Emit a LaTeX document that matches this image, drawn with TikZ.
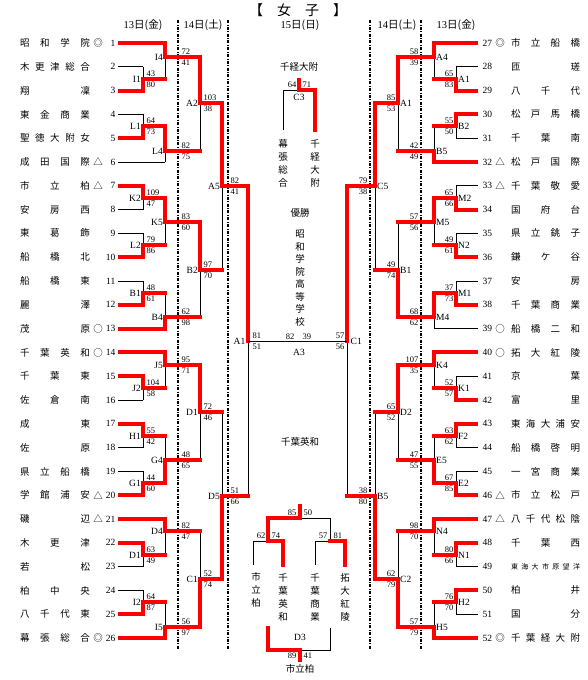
\documentclass[tikz,border=0pt]{standalone}
\usepackage{fontspec}
\setmainfont{Liberation Serif}
\newfontfamily\jp{Noto Sans CJK JP}

% one match: \cv vertical x, \co next x, \cs score x
% #1 top y, #2 bottom y, #3 out y, #4 winner y, #5 label, #6 #7 scores
\newcommand{\mL}[7]{%
  \draw[wire] (\cv,#1) -- (\cv,#2);
  \draw[win] (\cv,#4) -- (\cv,#3) -- (\co,#3);
  \node[lab,anchor=east] (m#5) at (\cv-1.5,#3) {#5};
  \node[sc,anchor=south west] (m#5a) at (\cs,#3-2) {#6};
  \node[sc,anchor=north west] (m#5b) at (\cs,#3+2) {#7};}
\newcommand{\mR}[7]{%
  \draw[wire] (\cv,#1) -- (\cv,#2);
  \draw[win] (\cv,#4) -- (\cv,#3) -- (\co,#3);
  \node[lab,anchor=west] (m#5) at (\cv+1.5,#3) {#5};
  \node[sc,anchor=south east] (m#5a) at (\cs,#3-2) {#6};
  \node[sc,anchor=north east] (m#5b) at (\cs,#3+2) {#7};}

\begin{document}
\begin{tikzpicture}[x=1pt,y=-1pt,
  every node/.style={inner sep=0.5pt},
  wire/.style={line width=0.7pt},
  win/.style={red,line width=4pt,line cap=rect},
  day/.style={line width=1.1pt,dash pattern=on 3pt off 1.5pt on 0.8pt off 1.5pt},
  sc/.style={font=\fontsize{8.5}{9}\selectfont},
  lab/.style={font=\fontsize{9.5}{10}\selectfont},
  num/.style={font=\fontsize{9.5}{10}\selectfont},
  tn/.style={font=\jp\fontsize{9.5}{10}\selectfont},
  vt/.style={font=\jp\fontsize{9.5}{13}\selectfont,align=center},
  hd/.style={font=\fontsize{10.5}{12}\selectfont}]
\useasboundingbox (0,0) rectangle (588,680);

% titles and days
\node[font=\jp\fontsize{14}{16}\selectfont] (title) at (298,10) {【\quad 女\quad 子\quad 】};
\node[hd] (d13l) at (143,25) {13{\jp 日(金)}};
\node[hd] (d14l) at (203,25) {14{\jp 日(土)}};
\node[hd] (d15) at (300,25) {15{\jp 日(日)}};
\node[hd] (d14r) at (397,25) {14{\jp 日(土)}};
\node[hd] (d13r) at (456,25) {13{\jp 日(金)}};
\foreach \x in {178,228,370,421} \draw[day] (\x,20) -- (\x,649);

% semifinals and final
\draw[wire] (248,186) -- (248,496);
\draw[win] (248,186) -- (248,341);
\node[lab,anchor=east] (sA1) at (246,341) {A1};
\node[sc,anchor=south west] at (252,339) {81};
\node[sc,anchor=north west] at (252,343) {51};
\draw[wire] (347,186) -- (347,496);
\draw[win] (347,186) -- (347,341);
\node[lab,anchor=west] (sC1) at (350,341) {C1};
\node[sc,anchor=south east] at (345,339) {57};
\node[sc,anchor=north east] at (345,343) {56};
\draw[wire] (sA1.east) ++(2,0) -- (347,341);
\node[sc,anchor=south east] at (295,340) {82};
\node[sc,anchor=south west] at (302,340) {39};
\node[lab] (fA3) at (299,352) {A3};

% left side
\def\cv{222}\def\co{248}\def\cs{230}
\mL{103}{270}{186}{103}{A5}{82}{41}
\mL{412}{579}{496}{579}{D5}{51}{66}
\def\cv{200}\def\co{222}\def\cs{203}
\mL{57}{151}{103}{57}{A2}{103}{38}
\mL{222}{317}{270}{222}{B2}{97}{70}
\mL{365}{460}{412}{365}{D1}{72}{46}
\mL{531}{627}{579}{627}{C1}{52}{74}
\def\cv{165}\def\co{200}\def\cs{181}
\mL{43}{79}{57}{43}{I4}{72}{41}
\mL{126}{162}{151}{126}{L4}{82}{75}
\mL{198}{245}{222}{198}{K5}{83}{60}
\mL{293}{328.6}{317}{328.6}{B4}{62}{98}
\mL{352.4}{388}{365}{352.4}{J5}{95}{71}
\mL{436}{483}{460}{483}{G4}{48}{65}
\mL{519}{555}{531}{519}{D4}{82}{47}
\mL{602}{638}{627}{638}{I5}{56}{97}
\def\cv{143}\def\co{165}\def\cs{146}
\mL{66.8}{90.6}{79}{90.6}{I1}{43}{80}
\mL{114.4}{138.2}{126}{138.2}{L1}{64}{73}
\mL{185.8}{209.6}{198}{185.8}{K2}{109}{47}
\mL{233.4}{257.2}{245}{257.2}{L2}{79}{86}
\mL{281}{304.8}{293}{304.8}{B1}{48}{61}
\mL{376.2}{400}{388}{376.2}{J2}{104}{58}
\mL{423.8}{447.6}{436}{423.8}{H1}{55}{42}
\mL{471.4}{495.2}{483}{495.2}{G1}{44}{60}
\mL{542.8}{566.6}{555}{542.8}{D1}{63}{49}
\mL{590.4}{614.2}{602}{614.2}{I2}{64}{87}

% right side
\def\cv{375}\def\co{347}\def\cs{368}
\mR{103}{270}{186}{103}{C5}{79}{38}
\mR{412}{579}{496}{579}{B5}{38}{80}
\def\cv{398}\def\co{375}\def\cs{396}
\mR{57}{151}{103}{57}{A1}{85}{53}
\mR{222}{317}{270}{317}{B1}{49}{74}
\mR{365}{460}{412}{365}{D2}{65}{52}
\mR{531}{627}{579}{627}{C2}{62}{79}
\def\cv{434}\def\co{398}\def\cs{419}
\mR{43}{79}{57}{43}{A4}{58}{39}
\mR{126}{162}{151}{162}{B5}{42}{49}
\mR{198}{245}{222}{198}{M5}{57}{56}
\mR{293}{328.6}{317}{293}{M4}{68}{62}
\mR{352.4}{388}{365}{352.4}{K4}{107}{35}
\mR{436}{483}{460}{483}{E5}{47}{55}
\mR{519}{555}{531}{519}{N4}{98}{70}
\mR{602}{638}{627}{638}{H5}{57}{79}
\def\cv{456}\def\co{434}\def\cs{454}
\mR{66.8}{90.6}{79}{90.6}{A1}{65}{83}
\mR{114.4}{138.2}{126}{114.4}{B2}{55}{50}
\mR{185.8}{209.6}{198}{209.6}{M2}{65}{66}
\mR{233.4}{257.2}{245}{257.2}{N2}{49}{61}
\mR{281}{304.8}{293}{304.8}{M1}{37}{73}
\mR{376.2}{400}{388}{400}{K1}{52}{57}
\mR{423.8}{447.6}{436}{423.8}{F2}{63}{62}
\mR{471.4}{495.2}{483}{495.2}{E2}{67}{85}
\mR{542.8}{566.6}{555}{542.8}{N1}{80}{66}
\mR{590.4}{614.2}{602}{590.4}{H2}{76}{70}

% team lines
\foreach \n/\x/\w in {1/165/1,2/143/0,3/143/1,4/143/0,5/143/1,6/165/0,7/143/1,
  8/143/0,9/143/0,10/143/1,11/143/0,12/143/1,13/165/1,14/165/1,15/143/1,16/143/0,
  17/143/1,18/143/0,19/143/0,20/143/1,21/165/1,22/143/1,23/143/0,24/143/0,25/143/1,26/165/1}{
  \pgfmathsetmacro\y{43+(\n-1)*23.8}
  \draw[wire] (118,\y) -- (\x,\y);
  \ifnum\w=1 \draw[win] (120,\y) -- (\x,\y);\fi}
\foreach \n/\x/\w in {27/434/1,28/456/0,29/456/1,30/456/1,31/456/0,32/434/1,33/456/0,
  34/456/1,35/456/0,36/456/1,37/456/0,38/456/1,39/434/0,40/434/1,41/456/0,42/456/1,
  43/456/1,44/456/0,45/456/0,46/456/1,47/434/1,48/456/1,49/456/0,50/456/1,51/456/0,52/434/1}{
  \pgfmathsetmacro\y{43+(\n-27)*23.8}
  \draw[wire] (478,\y) -- (\x,\y);
  \ifnum\w=1 \draw[win] (476,\y) -- (\x,\y);\fi}

% team names
\foreach \n/\nm/\mk in {1/{昭 和 学 院}/◎,2/{木 更 津 総 合}/{},3/{翔 凜}/{},4/{東 金 商 業}/{},
  5/{聖 徳 大 附 女}/{},6/{成 田 国 際}/△,7/{市 立 柏}/△,8/{安 房 西}/{},9/{東 葛 飾}/{},
  10/{船 橋 北}/{},11/{船 橋 東}/{},12/{麗 澤}/{},13/{茂 原}/○,14/{千 葉 英 和}/○,
  15/{千 葉 東}/{},16/{佐 倉 南}/{},17/{成 東}/{},18/{佐 原}/{},19/{県 立 船 橋}/{},
  20/{学 館 浦 安}/△,21/{磯 辺}/△,22/{木 更 津}/{},23/{若 松}/{},24/{柏 中 央}/{},
  25/{八 千 代 東}/{},26/{幕 張 総 合}/◎}{
  \pgfmathsetmacro\y{43+(\n-1)*23.8}
  \node[tn] (t\n) at (55,\y) {\hbox to 70pt{\spaceskip=0pt plus 1fil\relax\nm}};
  \node[tn] (k\n) at (98,\y) {\mk};
  \node[num,anchor=east] (n\n) at (116,\y) {\n};}
\foreach \n/\nm/\mk in {27/{市 立 船 橋}/◎,28/{匝 瑳}/{},29/{八 千 代}/{},30/{松 戸 馬 橋}/{},
  31/{千 葉 南}/{},32/{松 戸 国 際}/△,33/{千 葉 敬 愛}/△,34/{国 府 台}/{},35/{県 立 銚 子}/{},
  36/{鎌 ケ 谷}/{},37/{安 房}/{},38/{千 葉 商 業}/{},39/{船 橋 二 和}/○,40/{拓 大 紅 陵}/○,
  41/{京 葉}/{},42/{富 里}/{},43/{東 海 大 浦 安}/{},44/{船 橋 啓 明}/{},45/{一 宮 商 業}/{},
  46/{市 立 松 戸}/△,47/{八 千 代 松 陰}/△,48/{千 葉 西}/{},
  49/{\fontsize{7}{8}\selectfont 東 海 大 市 原 望 洋}/{},50/{柏 井}/{},51/{国 分}/{},
  52/{千 葉 経 大 附}/◎}{
  \pgfmathsetmacro\y{43+(\n-27)*23.8}
  \node[tn] (t\n) at (545.5,\y) {\hbox to 69pt{\spaceskip=0pt plus 1fil\relax\nm}};
  \node[tn] (k\n) at (500,\y) {\mk};
  \node[num,anchor=west] (n\n) at (482,\y) {\n};}

% 3rd place
\node[tn] (c3win) at (299,67) {千経大附};
\draw[wire] (283,90) -- (299,90);
\draw[wire] (283,90) -- (283,130);
\draw[win] (299,80) -- (299,90) -- (315,90) -- (315,130);
\node[sc,anchor=south east] (c3a) at (297,88) {64};
\node[sc,anchor=south west] (c3b) at (302,88) {71};
\node[lab] (c3) at (299,97) {C3};
\node[vt] (c3l) at (283,163) {幕\\張\\総\\合};
\node[vt] (c3r) at (315,163) {千\\経\\大\\附};

% champion
\node[tn] (yusho) at (300,213) {優勝};
\node[vt,font=\jp\fontsize{9.5}{12.5}\selectfont] (champ) at (300,278) {昭\\和\\学\\院\\高\\等\\学\\校};

% 5th place
\node[tn] (fifth) at (300,442) {千葉英和};
\draw[wire] (268,518) -- (330,518) -- (330,541);
\draw[win] (300,506) -- (300,518);
\draw[win] (300,518) -- (268,518) -- (268,541);
\draw[wire] (253,565) -- (253,541) -- (283,541);
\draw[wire] (315,565) -- (315,541) -- (345,541);
\draw[win] (268,541) -- (283,541) -- (283,565);
\draw[win] (330,541) -- (345,541) -- (345,565);
\node[sc,anchor=south east] (e5a) at (297,516) {85};
\node[sc,anchor=south west] (e5b) at (303,516) {50};
\node[sc,anchor=south east] (e1a) at (266,539) {62};
\node[sc,anchor=south west] (e1b) at (271,539) {74};
\node[sc,anchor=south east] (e2a) at (328,539) {57};
\node[sc,anchor=south west] (e2b) at (333,539) {81};
\node[vt] (e1l) at (256,590) {市\\立\\柏};
\node[vt] (e1r) at (283,597) {千\\葉\\英\\和};
\node[vt] (e2l) at (315,597) {千\\葉\\商\\業};
\node[vt] (e2r) at (345,597) {拓\\大\\紅\\陵};

% 7th place
\draw[wire] (330,628) -- (330,650) -- (300,650);
\draw[win] (268,628) -- (268,650) -- (300,650) -- (300,660);
\node[lab] (d3) at (300,637) {D3};
\node[sc,anchor=north east] (d3a) at (297,652) {89};
\node[sc,anchor=north west] (d3b) at (303,652) {41};
\node[tn] (seventh) at (300,669) {市立柏};
\end{tikzpicture}
\end{document}
